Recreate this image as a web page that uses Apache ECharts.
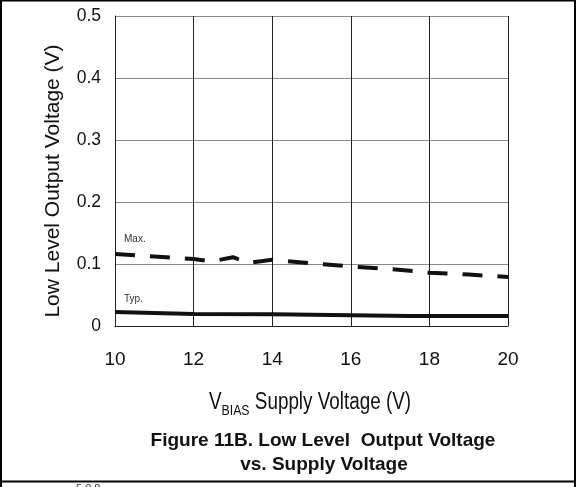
<!DOCTYPE html>
<html>
<head>
<meta charset="utf-8">
<script src="https://cdn.jsdelivr.net/npm/echarts@6/dist/echarts.min.js"></script>
<style>
    html, body { margin: 0; padding: 0; background: #fff; }
    #chart { width: 576px; height: 487px; }
</style>
</head>
<body>
<div id="chart"></div>
<script>
    // supply voltage (V) vs low level output voltage (V)
    const maxCurve = [
        [10, 0.116], [11, 0.112], [12, 0.108], [12.45, 0.104], [13, 0.111],
        [13.4, 0.102], [14, 0.107], [15, 0.101], [16, 0.096], [17, 0.092],
        [18, 0.086], [19, 0.083], [20, 0.079]
    ];
    const typCurve = [
        [10, 0.0225], [12, 0.0195], [14, 0.019], [16, 0.0175], [17.5, 0.016], [20, 0.016]
    ];
    const seriesNames = ['Max.', 'Typ.'];

    const regular = '"Liberation Sans", Arial, sans-serif';

    const chart = echarts.init(document.getElementById('chart'));
    chart.setOption({
        animation: false,
        backgroundColor: '#ffffff',
        grid: {left: 115, right: 68, top: 16, bottom: 161},
        xAxis: {
            type: 'value',
            min: 10,
            max: 20,
            interval: 2,
            axisLine: {lineStyle: {color: '#222', width: 1}},
            axisTick: {show: false},
            axisLabel: {fontFamily: regular, fontSize: 19, color: '#111', margin: 24},
            splitLine: {show: true, lineStyle: {color: '#222', width: 1}}
        },
        yAxis: {
            type: 'value',
            min: 0,
            max: 0.5,
            interval: 0.1,
            axisLine: {show: true, lineStyle: {color: '#222', width: 1}},
            axisTick: {show: false},
            axisLabel: {
                fontFamily: regular, fontSize: 17.5, color: '#111', margin: 14,
                formatter: v => v === 0 ? '0' : v.toFixed(1)
            },
            splitLine: {show: true, lineStyle: {color: '#888', width: 1}}
        },
        series: [{
            name: seriesNames[0],
            type: 'line',
            symbol: 'none',
            data: maxCurve,
            lineStyle: {color: '#111', width: 4, type: [20, 15]}
        }, {
            name: seriesNames[1],
            type: 'line',
            symbol: 'none',
            data: typCurve,
            lineStyle: {color: '#111', width: 4}
        }],
        graphic: [
            // outer frame of the figure
            {type: 'polyline', silent: true, shape: {points: [[1, 487], [1, 0.5], [575, 0.5], [575, 487]]},
                style: {stroke: '#000', lineWidth: 2, fill: null}},
            {type: 'line', silent: true, shape: {x1: 0, y1: 481.5, x2: 576, y2: 481.5},
                style: {stroke: '#000', lineWidth: 2}},
            {type: 'text', left: 76, top: 483, silent: true,
                style: {text: '5 0 8', font: '11px ' + regular, fill: '#333'}},
            // curve labels
            {type: 'text', x: 124, y: 239, silent: true,
                style: {text: seriesNames[0], font: '10px ' + regular, fill: '#333', verticalAlign: 'middle'}},
            {type: 'text', x: 124, y: 299, silent: true,
                style: {text: seriesNames[1], font: '10px ' + regular, fill: '#333', verticalAlign: 'middle'}},
            // y axis title
            {type: 'text', x: 53, y: 181, rotation: Math.PI / 2, silent: true,
                style: {text: 'Low Level Output Voltage (V)', font: '21px ' + regular, fill: '#111',
                    align: 'center', verticalAlign: 'middle'}},
            // x axis title (condensed like the original narrow face)
            {type: 'text', x: 310, y: 403, scaleX: 0.82, silent: true,
                style: {
                    text: '{v|V}{s|BIAS}{n| Supply Voltage (V)}',
                    align: 'center', verticalAlign: 'middle',
                    rich: {
                        v: {fontFamily: regular, fontSize: 23, fill: '#111', verticalAlign: 'middle', lineHeight: 30},
                        s: {fontFamily: regular, fontSize: 15, fill: '#111', verticalAlign: 'bottom', lineHeight: 30},
                        n: {fontFamily: regular, fontSize: 23, fill: '#111', verticalAlign: 'middle', lineHeight: 30}
                    }
                }},
            // figure caption
            {type: 'text', x: 323, y: 441, silent: true,
                style: {text: 'Figure 11B. Low Level  Output Voltage', font: 'bold 19px ' + regular, fill: '#111',
                    align: 'center', verticalAlign: 'middle'}},
            {type: 'text', x: 324, y: 465, silent: true,
                style: {text: 'vs. Supply Voltage', font: 'bold 19px ' + regular, fill: '#111',
                    align: 'center', verticalAlign: 'middle'}}
        ]
    });
</script>
</body>
</html>
